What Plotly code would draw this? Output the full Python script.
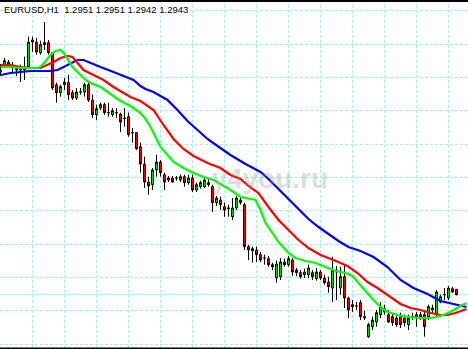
import plotly.graph_objects as go

# ---- data ----
bars = list(range(115))
opens = [1.3277,1.3286,1.3292,1.3286,1.3282,1.3283,1.3280,1.3285,1.3325,1.3322,
         1.3306,1.3321,1.3321,1.3306,1.3258,1.3246,1.3258,1.3261,1.3246,1.3238,
         1.3247,1.3247,1.3258,1.3235,1.3213,1.3223,1.3228,1.3216,1.3213,1.3216,
         1.3214,1.3207,1.3210,1.3186,1.3186,1.3165,1.3139,1.3112,1.3108,1.3130,
         1.3142,1.3123,1.3118,1.3118,1.3118,1.3115,1.3120,1.3111,1.3118,1.3100,
         1.3105,1.3105,1.3111,1.3105,1.3081,1.3085,1.3075,1.3072,1.3060,1.3073,
         1.3085,1.3078,1.3015,1.3012,1.3010,1.3003,1.2998,1.2997,1.2988,1.2968,
         1.2970,1.2992,1.2988,1.2995,1.2980,1.2976,1.2973,1.2973,1.2976,1.2967,
         1.2977,1.2968,1.2962,1.2953,1.2977,1.2953,1.2970,1.2938,1.2928,1.2926,
         1.2931,1.2910,1.2880,1.2895,1.2902,1.2913,1.2917,1.2913,1.2910,1.2908,
         1.2910,1.2908,1.2898,1.2910,1.2913,1.2910,1.2913,1.2910,1.2920,1.2913,
         1.2932,1.2943,1.2938,1.2952,1.2951]
highs = [1.3289,1.3298,1.3295,1.3292,1.3286,1.3288,1.3300,1.3330,1.3330,1.3328,
         1.3324,1.3352,1.3325,1.3307,1.3261,1.3258,1.3268,1.3273,1.3250,1.3253,
         1.3253,1.3261,1.3261,1.3243,1.3228,1.3231,1.3231,1.3231,1.3223,1.3223,
         1.3216,1.3223,1.3216,1.3193,1.3187,1.3171,1.3150,1.3120,1.3133,1.3153,
         1.3145,1.3126,1.3121,1.3121,1.3121,1.3123,1.3123,1.3123,1.3123,1.3111,
         1.3114,1.3118,1.3118,1.3108,1.3091,1.3090,1.3081,1.3078,1.3088,1.3091,
         1.3088,1.3081,1.3018,1.3015,1.3015,1.3007,1.3003,1.3001,1.2991,1.2994,
         1.2998,1.2997,1.3001,1.2998,1.2983,1.2980,1.2982,1.2988,1.2980,1.2983,
         1.2980,1.2973,1.2970,1.3000,1.2986,1.2985,1.2989,1.2940,1.2935,1.2932,
         1.2935,1.2919,1.2901,1.2910,1.2920,1.2932,1.2928,1.2920,1.2914,1.2913,
         1.2916,1.2913,1.2913,1.2916,1.2917,1.2917,1.2920,1.2928,1.2928,1.2950,
         1.2943,1.2953,1.2956,1.2955,1.2951]
lows = [1.3271,1.3283,1.3285,1.3277,1.3271,1.3262,1.3265,1.3283,1.3307,1.3303,
        1.3303,1.3310,1.3303,1.3250,1.3231,1.3240,1.3250,1.3235,1.3235,1.3235,
        1.3243,1.3240,1.3232,1.3208,1.3205,1.3220,1.3213,1.3210,1.3210,1.3208,
        1.3187,1.3195,1.3180,1.3171,1.3160,1.3126,1.3103,1.3093,1.3100,1.3120,
        1.3120,1.3100,1.3112,1.3111,1.3114,1.3112,1.3105,1.3108,1.3097,1.3097,
        1.3102,1.3103,1.3105,1.3067,1.3076,1.3070,1.3060,1.3060,1.3055,1.3070,
        1.3078,1.3010,1.2995,1.2991,1.2992,1.2992,1.2988,1.2985,1.2980,1.2961,
        1.2965,1.2985,1.2985,1.2971,1.2971,1.2967,1.2968,1.2968,1.2965,1.2964,
        1.2965,1.2958,1.2946,1.2932,1.2935,1.2943,1.2923,1.2908,1.2917,1.2920,
        1.2905,1.2905,1.2878,1.2890,1.2895,1.2908,1.2913,1.2901,1.2896,1.2895,
        1.2893,1.2895,1.2890,1.2905,1.2895,1.2905,1.2880,1.2905,1.2914,1.2910,
        1.2930,1.2935,1.2935,1.2946,1.2942]
closes = [1.3280,1.3294,1.3288,1.3283,1.3280,1.3280,1.3281,1.3322,1.3322,1.3307,
          1.3318,1.3318,1.3306,1.3253,1.3246,1.3255,1.3262,1.3243,1.3238,1.3247,
          1.3247,1.3258,1.3235,1.3213,1.3222,1.3228,1.3216,1.3216,1.3219,1.3216,
          1.3202,1.3208,1.3183,1.3186,1.3162,1.3139,1.3112,1.3106,1.3130,1.3142,
          1.3126,1.3112,1.3115,1.3112,1.3118,1.3120,1.3111,1.3118,1.3100,1.3108,
          1.3111,1.3115,1.3108,1.3081,1.3088,1.3078,1.3070,1.3073,1.3073,1.3088,
          1.3081,1.3015,1.3010,1.3009,1.3003,1.2995,1.2998,1.2988,1.2985,1.2989,
          1.2992,1.2988,1.2997,1.2977,1.2976,1.2970,1.2977,1.2983,1.2970,1.2977,
          1.2968,1.2961,1.2955,1.2980,1.2979,1.2970,1.2938,1.2920,1.2925,1.2926,
          1.2910,1.2908,1.2898,1.2905,1.2916,1.2925,1.2922,1.2902,1.2901,1.2898,
          1.2898,1.2901,1.2908,1.2910,1.2908,1.2913,1.2895,1.2925,1.2923,1.2947,
          1.2940,1.2943,1.2953,1.2947,1.2943]

green_x = [0,2.5,5,7.5,9.5,10.5,11.5,12.5,13.75,15,16,17,18,19,20,21.25,22.5,23.75,25,
           27.5,30,32.5,35,36.25,37.5,38.75,40,41.75,43.25,45.75,48.25,50.75,53.25,55,
           57.5,60,62.5,63.75,65,66.25,68,69.5,72,73.75,76.25,78.75,81.25,83.75,86.25,
           88,89.5,91.25,93,95,96.75,99.25,101.75,105,107.5,110,112.5,115,116.5]
green_y = [1.32845,1.32845,1.3283,1.3283,1.3283,1.32875,1.3295,1.33025,1.33085,1.331,
           1.3304,1.32935,1.32845,1.32785,1.32725,1.3265,1.32605,1.32575,1.32545,
           1.3244,1.32335,1.3226,1.32155,1.32065,1.31945,1.31795,1.31645,1.31525,1.3142,
           1.3133,1.31255,1.31195,1.3115,1.3109,1.3100,1.30895,1.30865,1.3085,1.3070,
           1.30505,1.30355,1.3022,1.30055,1.2998,1.29935,1.29905,1.29845,1.29785,1.29755,
           1.2971,1.29605,1.29485,1.29365,1.29245,1.2917,1.29125,1.29095,1.2908,1.2908,
           1.2911,1.2917,1.2926,1.29305]
red_x = [0,2.5,5,7.5,10,11.75,13.25,15,16.75,18,19.25,20.75,23.25,25.75,28.25,30.75,
         32.5,35,38.25,40.75,43.25,45.75,48.25,51.75,55,57.5,60,62,64.5,67,69.5,72,74.5,
         77,80,83.25,86.75,89.25,91.75,94.25,96.75,100,102.5,105,107.5,110,111.75,113.75,
         116.5]
red_y = [1.32875,1.32875,1.32845,1.3283,1.3283,1.32875,1.3292,1.3298,1.3301,1.32995,
         1.32905,1.3280,1.32725,1.3265,1.32545,1.32455,1.32395,1.32335,1.3220,1.31975,
         1.31765,1.31615,1.3151,1.31405,1.3133,1.31225,1.31165,1.3106,1.30955,1.30745,
         1.3055,1.3040,1.3025,1.3013,1.30025,1.2995,1.2986,1.29755,1.2962,1.2953,1.29425,
         1.2929,1.2923,1.2920,1.29155,1.29125,1.29125,1.29155,1.29215]
blue_x = [0,2.5,5,7.5,10,12.5,14.25,15.75,17.5,19.25,20.75,22.5,25,28.25,31.25,33.25,35,
          36.25,38.25,40,41.75,44.25,46.75,49.25,51.75,54.25,57.5,61.25,65,66.75,69.5,72,
          74.5,77,79.5,82,84.5,87,90,93.25,96.75,100,103.25,106.75,110,113.25,116.5]
blue_y = [1.32725,1.32755,1.3277,1.32785,1.32785,1.32785,1.3280,1.32845,1.32905,1.3295,
          1.3295,1.32905,1.32845,1.3277,1.32695,1.3265,1.3256,1.32515,1.3247,1.3241,
          1.3235,1.3220,1.32035,1.3190,1.31765,1.3166,1.31525,1.3139,1.3127,1.3118,
          1.31015,1.30865,1.30715,1.30565,1.30445,1.3034,1.30235,1.30145,1.30085,1.29995,
          1.29845,1.2965,1.2953,1.2944,1.29335,1.2929,1.29245]

bid_price = 1.2943
header = "EURUSD,H1\u00a0\u00a01.2951 1.2951 1.2942 1.2943"
watermark_faint = "strateg"
watermark_main = "y4you.ru"
x_grid = [8, 16, 24, 32, 40, 48, 56, 64, 72, 80, 88, 96, 104, 112]
y_grid = [1.3369, 1.3319, 1.3269, 1.3219, 1.3169, 1.3119, 1.3069, 1.3019,
          1.2969, 1.2919, 1.2869]

GRID = "#a8ecec"

fig = go.Figure()
fig.add_trace(go.Candlestick(
    x=bars, open=opens, high=highs, low=lows, close=closes,
    increasing=dict(line=dict(color="black", width=1), fillcolor="#00e600"),
    decreasing=dict(line=dict(color="black", width=1), fillcolor="#ff0000"),
    whiskerwidth=0, hoverinfo="skip", showlegend=False))
for xs, ys, col in [(blue_x, blue_y, "#0000ff"), (red_x, red_y, "#ff0000"),
                    (green_x, green_y, "#00ff00")]:
    fig.add_trace(go.Scatter(x=xs, y=ys, mode="lines",
                             line=dict(color=col, width=2.2),
                             hoverinfo="skip", showlegend=False))

fig.add_shape(type="line", xref="paper", x0=0, x1=1, yref="y",
              y0=bid_price, y1=bid_price, line=dict(color=GRID, width=1),
              layer="below")
fig.add_shape(type="rect", xref="paper", yref="paper", x0=0, x1=1,
              y0=1 - 2 / 349, y1=1, fillcolor="black", line=dict(width=0))
fig.add_shape(type="rect", xref="paper", yref="paper", x0=0, x1=1,
              y0=0, y1=1.5 / 349, fillcolor="black", line=dict(width=0))

fig.add_annotation(text=header, xref="paper", yref="paper", x=3 / 468,
                   y=1 - 3 / 349, xanchor="left", yanchor="top", showarrow=False,
                   font=dict(family="Liberation Sans", size=9.5, color="black"),
                   bgcolor="white", borderpad=0)
fig.add_annotation(
    text="<b><span style='color:rgba(150,150,150,0.13)'>" + watermark_faint +
         "</span>" + watermark_main + "</b>",
    xref="paper", yref="paper", x=330 / 468, y=1 - 178 / 349,
    xanchor="right", yanchor="middle", showarrow=False,
    font=dict(family="Liberation Sans", size=28, color="rgba(150,150,150,0.33)"))

fig.update_layout(
    width=468, height=349, margin=dict(l=0, r=0, t=0, b=0),
    paper_bgcolor="white", plot_bgcolor="white", showlegend=False,
    xaxis=dict(range=[-0.125, 116.875], rangeslider=dict(visible=False),
               tickvals=x_grid, showticklabels=False, showgrid=True,
               gridcolor=GRID, griddash="3px,2px", gridwidth=1, zeroline=False,
               showline=False, ticks=""),
    yaxis=dict(range=[1.28615, 1.3385], tickvals=y_grid, showticklabels=False,
               showgrid=True, gridcolor=GRID, griddash="3px,2px", gridwidth=1,
               zeroline=False, showline=False, ticks=""),
)
fig.write_html("out.html")
